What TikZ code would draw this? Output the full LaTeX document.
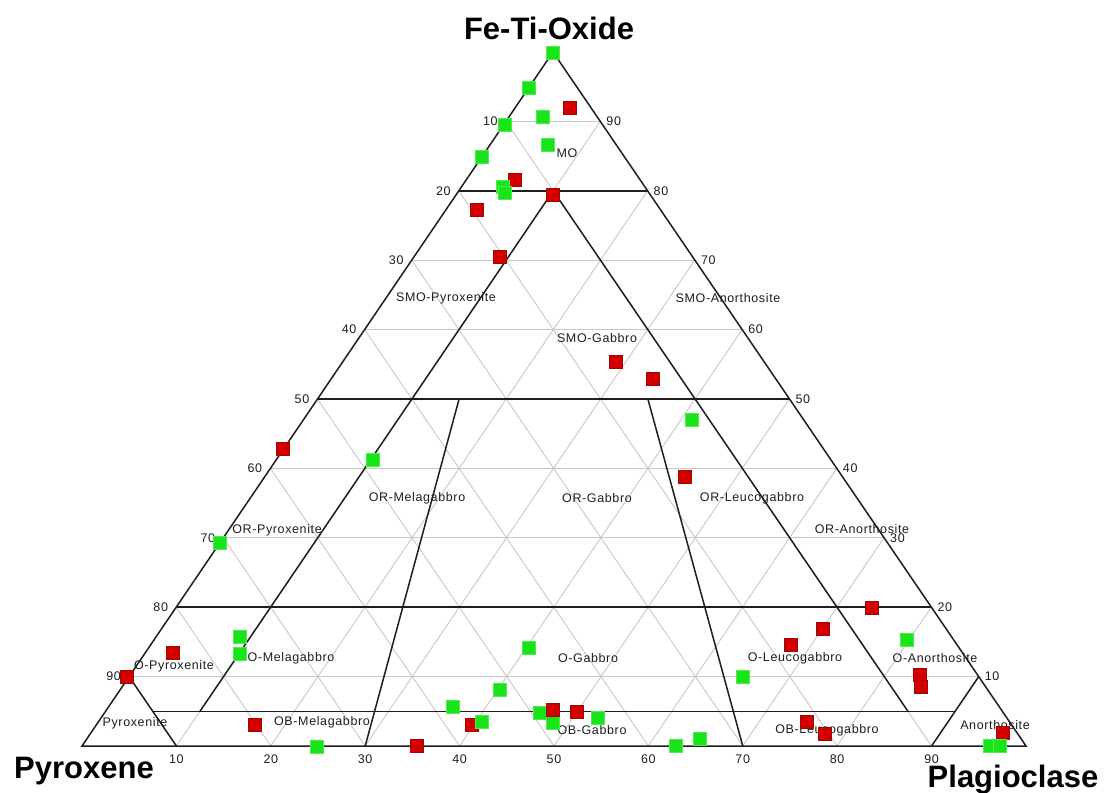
\documentclass[tikz,border=0pt]{standalone}
\usepackage{fontspec}
\setmainfont{Liberation Sans}
\newfontfamily\lblfont[LetterSpace=5]{Liberation Sans}
\definecolor{ptgreen}{RGB}{25,228,25}
\definecolor{ptgreenedge}{RGB}{80,235,80}
\definecolor{ptred}{RGB}{212,0,0}
\definecolor{ptrededge}{RGB}{150,10,10}
\definecolor{gridgray}{RGB}{200,200,200}
\definecolor{ink}{RGB}{30,30,30}
\begin{document}
\begin{tikzpicture}[x=1pt,y=-1pt,
  gridline/.style={draw=gridgray, line width=0.9pt},
  bound/.style={draw=ink, line width=1.5pt},
  lbl/.style={font=\lblfont\fontsize{12.5}{14}\selectfont, text=ink, inner sep=0pt},
  tick/.style={font=\lblfont\fontsize{12.5}{14}\selectfont, text=ink, inner sep=0pt},
  ttl/.style={font=\bfseries\fontsize{31}{34}\selectfont, text=black, inner sep=0pt, anchor=base},
  gpt/.style={rectangle, minimum size=13pt, inner sep=0pt, fill=ptgreen, draw=ptgreenedge, line width=0.6pt},
  rpt/.style={rectangle, minimum size=13pt, inner sep=0pt, fill=ptred, draw=ptrededge, line width=0.6pt}]
\fill[white] (0,0) rectangle (1104,793);
\useasboundingbox (0,0) rectangle (1104,793);
\coordinate (A) at (553,52);
\coordinate (P) at (82,746);
\coordinate (L) at (1026,746);
% grid
\foreach \i [evaluate=\i as \j using int(10-\i)] in {1,...,9} {
  \draw[gridline] (barycentric cs:A=\i,P=\j,L=0) -- (barycentric cs:A=\i,P=0,L=\j);
  \draw[gridline] (barycentric cs:L=\i,A=\j,P=0) -- (barycentric cs:L=\i,P=\j,A=0);
  \draw[gridline] (barycentric cs:P=\i,A=\j,L=0) -- (barycentric cs:P=\i,L=\j,A=0);
}
% boundaries
\draw[bound] (A) -- (P) -- (L) -- cycle;
\coordinate (m80a) at (barycentric cs:A=0.8,P=0.2,L=0);
\coordinate (m80b) at (barycentric cs:A=0.8,P=0,L=0.2);
\coordinate (m50a) at (barycentric cs:A=0.5,P=0.5,L=0);
\coordinate (m50b) at (barycentric cs:A=0.5,P=0,L=0.5);
\coordinate (m20a) at (barycentric cs:A=0.2,P=0.8,L=0);
\coordinate (m20b) at (barycentric cs:A=0.2,P=0,L=0.8);
\coordinate (m5a) at (barycentric cs:A=0.05,P=0.9,L=0.05);
\coordinate (m5b) at (barycentric cs:A=0.05,P=0.05,L=0.9);
\coordinate (px1) at (barycentric cs:A=0.1,P=0.9,L=0);
\coordinate (px2) at (barycentric cs:A=0,P=0.9,L=0.1);
\coordinate (an1) at (barycentric cs:A=0.1,P=0,L=0.9);
\coordinate (an2) at (barycentric cs:A=0,P=0.1,L=0.9);
\coordinate (top) at (barycentric cs:A=0.8,P=0.1,L=0.1);
\coordinate (lb) at (barycentric cs:A=0.05,P=0.85,L=0.1);
\coordinate (rb) at (barycentric cs:A=0.05,P=0.1,L=0.85);
\coordinate (g1a) at (barycentric cs:A=0.5,P=0.35,L=0.15);
\coordinate (g1b) at (barycentric cs:A=0,P=0.7,L=0.3);
\coordinate (g2a) at (barycentric cs:A=0.5,P=0.15,L=0.35);
\coordinate (g2b) at (barycentric cs:A=0,P=0.3,L=0.7);
\draw[bound] (m80a) -- (m80b);
\draw[bound] (m50a) -- (m50b);
\draw[bound] (m20a) -- (m20b);
\draw[bound] (m5a) -- (m5b);
\draw[bound] (px1) -- (px2);
\draw[bound] (an1) -- (an2);
\draw[bound] (top) -- (lb);
\draw[bound] (top) -- (rb);
\draw[bound] (g1a) -- (g1b);
\draw[bound] (g2a) -- (g2b);
% tick labels
\foreach \k [evaluate=\k as \m using int(10-\k), evaluate=\k as \lab using int(10*\k)] in {1,...,9} {
  \node[tick, anchor=east] (tl\k) at ([xshift=-8pt]barycentric cs:A=\m,P=\k,L=0) {\lab};
  \node[tick, anchor=west] (tr\k) at ([xshift=6pt]barycentric cs:A=\k,P=0,L=\m) {\lab};
  \node[tick, anchor=north] (tb\k) at ([yshift=-9pt]barycentric cs:L=\k,P=\m,A=0) {\lab};
}
% region labels
\node[lbl] (rMO) at (567,153) {MO};
\node[lbl] (rSP) at (446,298) {SMO-Pyroxenite};
\node[lbl] (rSA) at (728,298) {SMO-Anorthosite};
\node[lbl] (rSG) at (597,338) {SMO-Gabbro};
\node[lbl] (rORM) at (417,498) {OR-Melagabbro};
\node[lbl] (rORP) at (277,530) {OR-Pyroxenite};
\node[lbl] (rORG) at (597,498) {OR-Gabbro};
\node[lbl] (rORL) at (752,498) {OR-Leucogabbro};
\node[lbl] (rORA) at (862,529) {OR-Anorthosite};
\node[lbl] (rOP) at (174,666) {O-Pyroxenite};
\node[lbl] (rOM) at (291,658) {O-Melagabbro};
\node[lbl] (rOG) at (588,658) {O-Gabbro};
\node[lbl] (rOL) at (795,658) {O-Leucogabbro};
\node[lbl] (rOA) at (935,658) {O-Anorthosite};
\node[lbl] (rP) at (135,723) {Pyroxenite};
\node[lbl] (rOBM) at (322,722) {OB-Melagabbro};
\node[lbl] (rOBG) at (592,730) {OB-Gabbro};
\node[lbl] (rOBL) at (827,730) {OB-Leucogabbro};
\node[lbl] (rA) at (995,725) {Anorthosite};
% data points
\foreach \x/\y [count=\n] in {472/725,570/108,515/180,553/195,477/210,500/257,616/362,653/379,685/477,283/449,872/608,823/629,791/645,173/653,127/677,920/675,921/687,255/725,417/746,807/722,825/734,1003/733}
  \node[rpt] (r\n) at (\x,\y) {};
\foreach \x/\y [count=\n] in {553/53,529/88,543/117,505/125,548/145,482/157,503/187,505/193,692/420,373/460,220/543,240/637,240/654,529/648,743/677,907/640,500/690,453/707,540/713,553/723,598/718,482/722,317/747,676/746,700/739,990/746,1000/746}
  \node[gpt] (g\n) at (\x,\y) {};
\foreach \x/\y [count=\n] in {553/710,577/712}
  \node[rpt] (rr\n) at (\x,\y) {};
% titles
\node[ttl] (tA) at (549,39) {Fe-Ti-Oxide};
\node[ttl] (tP) at (84,778) {Pyroxene};
\node[ttl] (tL) at (1013,787) {Plagioclase};
\end{tikzpicture}
\end{document}
